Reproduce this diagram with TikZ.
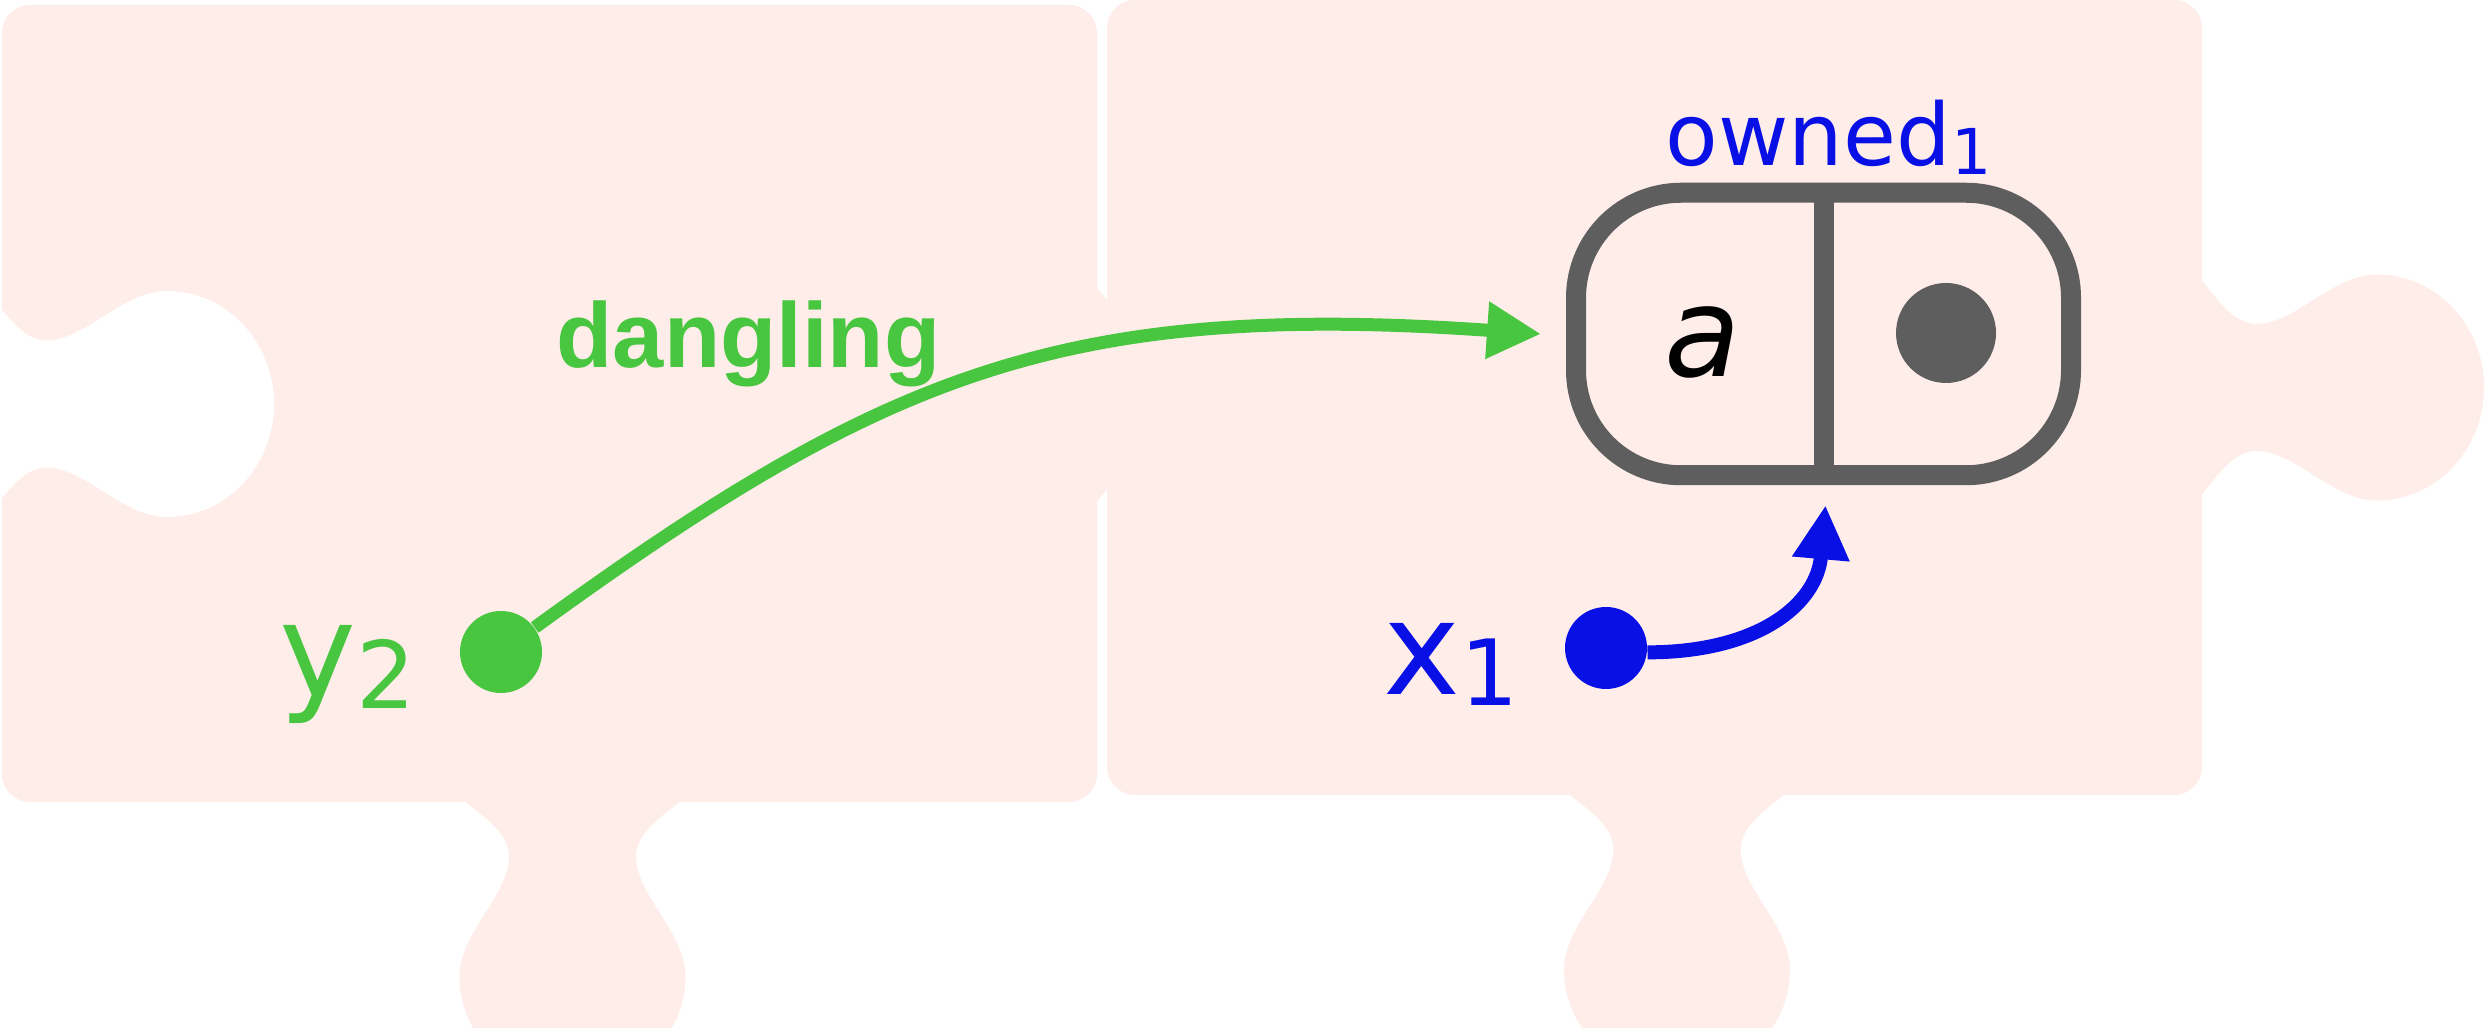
\documentclass[tikz,border=0pt]{standalone}
\usepackage{fontspec}
\setmainfont{DejaVu Sans}
\newfontfamily\libsans{Liberation Sans}
\usetikzlibrary{arrows.meta}
\definecolor{piece}{RGB}{255,237,234}
\definecolor{grn}{RGB}{72,198,63}
\definecolor{blu}{RGB}{8,16,230}
\definecolor{boxgray}{RGB}{94,94,94}
\newcommand\tabH{(-107,0) .. controls (-88,15) and (-63.5,32) .. (-63.5,54) .. controls (-63.5,94) and (-113,130) .. (-113,175) .. controls (-113,234) and (-62.4,282) .. (0,282) .. controls (62.4,282) and (113,234) .. (113,175) .. controls (113,130) and (63.5,94) .. (63.5,54) .. controls (63.5,32) and (88,15) .. (107,0) -- (107,-8) -- (-107,-8) -- cycle}
\newcommand\tabV{(0,-107) .. controls (15,-88) and (32,-63.5) .. (54,-63.5) .. controls (94,-63.5) and (130,-113) .. (175,-113) .. controls (234,-113) and (282,-62.4) .. (282,0) .. controls (282,62.4) and (234,113) .. (175,113) .. controls (130,113) and (94,63.5) .. (54,63.5) .. controls (32,63.5) and (15,88) .. (0,107) -- (-8,107) -- (-8,-107) -- cycle}
\begin{document}
\begin{tikzpicture}[x=0.1mm,y=-0.1mm,
  piecefill/.style={fill=piece},
  dotnode/.style={circle,inner sep=0pt,minimum size=8.2mm},
  labeltext/.style={anchor=base west,inner sep=0pt},
  arrowline/.style={-{Triangle[length=5.4mm,width=5.4mm]}}]
\useasboundingbox (0,0) rectangle (2484,1028);
\fill[white] (0,0) rectangle (2484,1028);
% left piece
\fill[piecefill,rounded corners=2.8mm] (2,5) rectangle (1097,802);
\fill[piecefill,shift={(572.5,802)}] \tabH;
\fill[piecefill,shift={(1097,394.5)}] \tabV;
% right piece
\fill[piecefill,rounded corners=2.8mm] (1107,0) rectangle (2202,795);
\fill[piecefill,shift={(1677,795)}] \tabH;
\fill[piecefill,shift={(2202,387.5)}] \tabV;
% hole on the left piece
\fill[white,shift={(-8,404)}] \tabV;
% owned box
\node[draw=boxgray,line width=2mm,rounded corners=10.5mm,minimum width=49.5mm,minimum height=28.25mm,inner sep=0pt] (own) at (1823.5,334) {};
\draw[boxgray,line width=2mm] (own.north) -- (own.south);
\node[anchor=base,inner sep=0pt,font=\itshape\fontsize{35.5}{40}\selectfont] (alab) at (1703,377) {a};
\node[circle,inner sep=0pt,minimum size=10mm,fill=boxgray] (gd) at (1946,333) {};
\node[labeltext,text=blu,font=\fontsize{24.5}{28}\selectfont] (ownlab) at (1665,166) {owned\raisebox{-0.9mm}{\fontsize{18}{20}\selectfont 1}};
% dots
\node[dotnode,fill=grn] (gdot) at (501,652) {};
\node[dotnode,fill=blu] (bdot) at (1606,648) {};
\node[labeltext,text=grn,font=\fontsize{37}{44}\selectfont] (ylab) at (279,697) {y\raisebox{-1.2mm}{\fontsize{26.5}{30}\selectfont 2}};
\node[labeltext,text=blu,font=\fontsize{37}{44}\selectfont] (xlab) at (1383,695) {x\raisebox{-1.1mm}{\fontsize{26}{30}\selectfont 1}};
\node[labeltext,text=grn,font=\libsans\bfseries\fontsize{26.2}{30}\selectfont] (dang) at (556,368) {dangling};
% arrows
\coordinate (gend) at ([xshift=-2.5mm]own.west);
\coordinate (bend) at ([xshift=0.2mm,yshift=-2mm]own.south);
\draw[grn,line width=1.3mm,arrowline] (gdot) to[out=36,in=176,out distance=43mm,in distance=48mm] (gend);
\draw[blu,line width=1.4mm,arrowline] (bdot.-6) to[out=0,in=-95,out distance=11mm,in distance=10mm] (bend);
\end{tikzpicture}
\end{document}
